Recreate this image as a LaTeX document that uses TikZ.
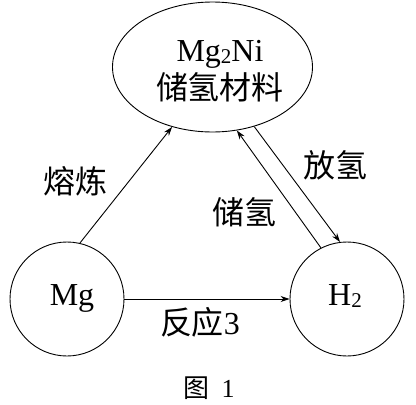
\documentclass[tikz,border=0pt]{standalone}
\usepackage{fontspec}
\setmainfont{Liberation Serif}
\newfontfamily\cjk{Noto Sans CJK SC}
\usetikzlibrary{shapes.geometric,arrows.meta}
\begin{document}
\begin{tikzpicture}[x=1pt,y=-1pt, line width=0.9pt,
  circ/.style={draw,circle,minimum size=114pt,inner sep=0pt},
  ellbox/.style={draw,ellipse,minimum width=200pt,minimum height=130pt,inner sep=0pt},
  lbl/.style={font=\cjk\fontsize{32}{36}\selectfont, inner sep=0pt},
  latin/.style={font=\fontsize{32}{36}\selectfont, inner sep=0pt},
  arr/.style={-{Stealth[length=9pt,width=6pt]}}]
\useasboundingbox (0,0) rectangle (416,405);
% nodes
\node[ellbox] (ell) at (212.5,67) {};
\node[latin, anchor=base] (mgni) at (220,61) {Mg\raisebox{-0.2ex}{\fontsize{21}{21}\selectfont 2}Ni};
\node[lbl] (store) at (220,87) {储氢材料};
\node[circ] (mg) at (67,299) {};
\node[latin, anchor=base] (mgt) at (72,305) {Mg};
\node[circ] (h2) at (347,299) {};
\node[latin, anchor=base] (h2t) at (345,305) {H\raisebox{-0.2ex}{\fontsize{21}{21}\selectfont 2}};
% connectors
\draw[arr] (mg.77) -- (ell.236);
\draw[arr] (mg.east) -- (h2.west);
\draw[arr] (h2.117) -- (ell.291);
\draw[arr] (ell.305) -- (h2.97);
% labels
\node[lbl] (l1) at (76,181) {熔炼};
\node[lbl] (l2) at (244,212) {储氢};
\node[lbl] (l3) at (335,165) {放氢};
\node[lbl] (l4) at (200,322) {反应{\rmfamily 3}};
\node[inner sep=0pt, font=\fontsize{26}{30}\selectfont] (cap) at (209,388) {{\cjk 图}\hspace{12pt}1};
\end{tikzpicture}
\end{document}
